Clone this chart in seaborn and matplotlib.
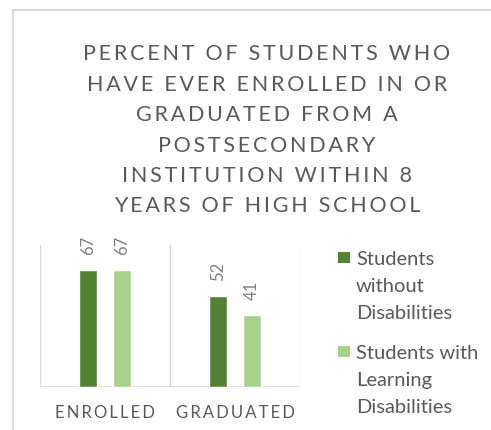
import matplotlib
matplotlib.use("Agg")
import matplotlib.pyplot as plt
import seaborn as sns
import pandas as pd
from matplotlib.lines import Line2D
from matplotlib.patches import Rectangle

categories = ["ENROLLED", "GRADUATED"]
series_names = ["Students without Disabilities", "Students with Learning Disabilities"]
legend_labels = ["Students\nwithout\nDisabilities", "Students with\nLearning\nDisabilities"]
without_dis = [67, 52]
with_ld = [67, 41]
colors = ["#548235", "#a9d18e"]
title_lines = ["PERCENT OF STUDENTS WHO", "HAVE EVER ENROLLED IN OR", "GRADUATED FROM A",
               "POSTSECONDARY", "INSTITUTION WITHIN 8", "YEARS OF HIGH SCHOOL"]

def spaced(s, sep="\u200a"):
    return sep.join(list(s))

sns.set_theme(style="white")
plt.rcParams["font.family"] = ["Lato", "DejaVu Sans"]

df = pd.DataFrame({
    "category": categories * 2,
    "series": [series_names[0]] * 2 + [series_names[1]] * 2,
    "value": without_dis + with_ld,
})

W, H = 491, 430
fig = plt.figure(figsize=(W / 100, H / 100), dpi=100)
ax = fig.add_axes([40/W, 1-387/H, 260/W, 142/H])
sns.barplot(data=df, x="category", y="value", hue="series", palette=colors,
            width=0.52, gap=0.485, ax=ax, legend=False, saturation=1)
ax.set_ylim(0, 81.3)
ax.set_xlim(-0.5, 1.5)
for s in ax.spines.values():
    s.set_visible(False)
ax.set_yticks([])
ax.set_ylabel("")
ax.set_xlabel("")
for xv in [-0.5, 0.5, 1.5]:
    ax.axvline(xv, color="#d9d9d9", lw=1.0, zorder=0)
ax.axhline(0, color="#d9d9d9", lw=1.2, zorder=0)
ax.set_xticks([0, 1])
ax.set_xticklabels([spaced(c, "\u2009") for c in categories], color="#595959", fontsize=12)
ax.tick_params(axis="x", length=0, pad=13)
for cont in ax.containers:
    ax.bar_label(cont, rotation=90, padding=11, color="#7f7f7f", fontsize=12)

fig.text(267/W, 1-130.5/H, "\n".join(spaced(l, "\u2009") for l in title_lines),
         ha="center", va="center", fontsize=15.5, color="#595959", linespacing=1.65)

# legend drawn manually (square aligned with first line of each label)
legend_tops = [252, 346]
for i, (lab, col) in enumerate(zip(legend_labels, colors)):
    top = legend_tops[i]
    fig.add_artist(Rectangle((338/W, 1-(top+11)/H), 12/W, 11/H, transform=fig.transFigure,
                             facecolor=col, edgecolor="none"))
    for j, line in enumerate(lab.split("\n")):
        base = top + 13 + j * 27
        fig.text(356/W, 1-base/H, line, ha="left", va="baseline", fontsize=14.5, color="#595959")

fig.add_artist(Line2D([13/W, 13/W], [0, 1-10/H], color="#d9d9d9", lw=1.5))
fig.add_artist(Line2D([13/W, 1], [1-10/H, 1-10/H], color="#d9d9d9", lw=1.5))

fig.savefig("out.png", dpi=100)
